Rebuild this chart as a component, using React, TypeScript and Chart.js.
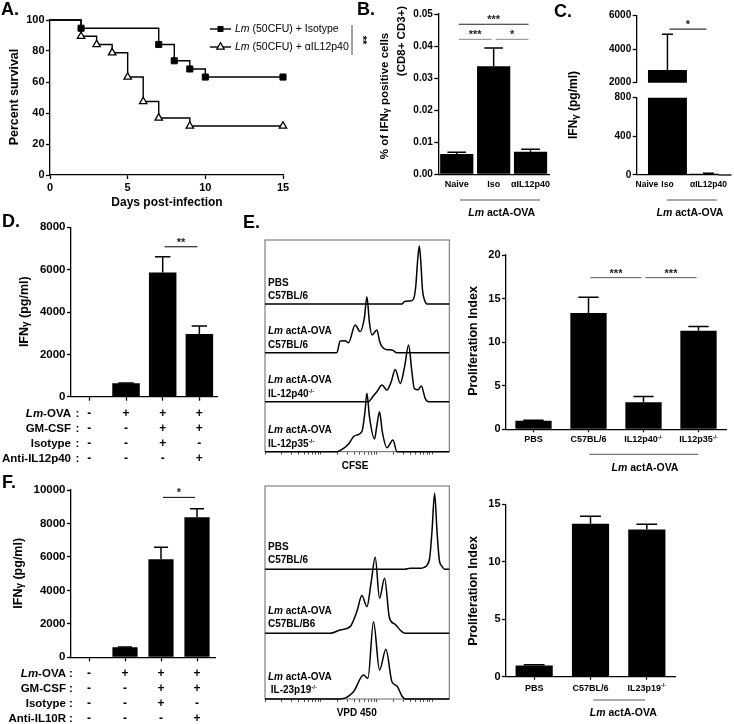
import React, { useEffect, useRef } from 'react';
import { Chart, registerables } from 'chart.js';

Chart.register(...registerables);

const W = 734;
const H = 724;
const FONT = "'Liberation Sans', Arial, Helvetica, sans-serif";

// ---------------- DATA ----------------
// A. Kaplan-Meier survival
const A_DAYS_ISO = [0, 2, 7, 8, 9, 10, 15];
const A_SURV_ISO = [100, 94.7, 84.2, 73.7, 68.4, 63.2, 63.2];
const A_DAYS_AB = [0, 2, 3, 4, 5, 6, 7, 9, 15];
const A_SURV_AB = [100, 89.5, 84.2, 78.9, 63.2, 47.4, 36.8, 31.6, 31.6];
const A_SERIES = ['_Lm_ (50CFU) + Isotype', '_Lm_ (50CFU) + αIL12p40'];

// B. % IFNγ+ cells
const B_CATS = ['Naive', 'Iso', 'αIL12p40'];
const B_MEAN = [0.0063, 0.0337, 0.0070];
const B_SEM = [0.0006, 0.0057, 0.0008];
const B_SIG: [number, number, number, string][] = [[0, 2, 0.0468, '***'], [0, 1, 0.0421, '***'], [1, 2, 0.0421, '*']];

// C. IFNγ pg/ml (broken axis) – empty slot between Iso and αIL12p40
const C_CATS = ['Naive', 'Iso', '', 'αIL12p40'];
const C_MEAN = [0, 2760, null, 12];
const C_SEM = [0, 2130, 0, 5];
const C_SIG: [number, number, number, string][] = [[1, 3, 5200, '*']];

// D. IFNγ with anti-IL12p40
const D_ROWS = ['_Lm_-OVA', 'GM-CSF', 'Isotype', 'Anti-IL12p40'];
const D_TABLE = [['-', '+', '+', '+'], ['-', '-', '+', '+'], ['-', '-', '+', '-'], ['-', '-', '-', '+']];
const D_MEAN = [0, 630, 5870, 2960];
const D_SEM = [0, 20, 740, 380];
const D_SIG: [number, number, number, string][] = [[2, 3, 7080, '**']];

// F. IFNγ with anti-IL10R
const F_ROWS = ['_Lm_-OVA', 'GM-CSF', 'Isotype', 'Anti-IL10R'];
const F_TABLE = [['-', '+', '+', '+'], ['-', '-', '+', '+'], ['-', '-', '+', '-'], ['-', '-', '-', '+']];
const F_MEAN = [0, 600, 5860, 8370];
const F_SEM = [0, 20, 715, 515];
const F_SIG: [number, number, number, string][] = [[2, 3, 9560, '*']];

// E. proliferation index
const E1_CATS = ['PBS', 'C57BL/6', 'IL12p40^-/-^', 'IL12p35^-/-^'];
const E1_MEAN = [0.97, 13.35, 3.1, 11.3];
const E1_SEM = [0.08, 1.8, 0.65, 0.5];
const E1_SIG: [number, number, number, string][] = [[1, 2, 17.4, '***'], [2, 3, 17.4, '***']];
const E2_CATS = ['PBS', 'C57BL/6', 'IL23p19^-/-^'];
const E2_MEAN = [0.97, 13.3, 12.8];
const E2_SEM = [0.06, 0.65, 0.45];

// E. flow histograms: [log10 fluorescence (decades), count]
const HIST_DECADES = 3.3;
const H1_NAMES = [['PBS', 'C57BL/6'], ['_Lm_ actA-OVA', 'C57BL/6'], ['_Lm_ actA-OVA', 'IL-12p40^-/-^'], ['_Lm_ actA-OVA', 'IL-12p35^-/-^']];
const H1_MAX = [64, 48.7, 49, 50];
const H1_PBS = [[0, 0], [2.45, 0], [2.5, 2.5], [2.6, 3], [2.66, 5], [2.7, 18], [2.735, 45], [2.763, 58], [2.79, 42], [2.82, 14], [2.86, 3.5], [2.9, 0], [3.3, 0]];
const H1_WT = [[0, 0], [1.286, 0], [1.346, 11.7], [1.435, 12], [1.495, 10], [1.615, 27.7], [1.704, 21], [1.78, 35], [1.825, 56], [1.87, 30], [1.914, 17.7], [2.004, 22.7], [2.05, 12], [2.094, 6], [2.183, 3], [2.273, 2.7], [2.363, 0], [3.3, 0]];
const H1_P40 = [[0, 0], [1.853, 0], [1.93, 5], [2.004, 10], [2.094, 16.7], [2.183, 11.7], [2.26, 20], [2.332, 32.3], [2.422, 18.3], [2.5, 35], [2.571, 56.7], [2.63, 30], [2.673, 13.3], [2.74, 12], [2.799, 15.7], [2.87, 3], [2.93, 0], [3.3, 0]];
const H1_P35 = [[0, 0], [1.286, 0], [1.405, 3.3], [1.5, 8], [1.584, 15], [1.645, 16.7], [1.735, 20], [1.79, 40], [1.825, 58.4], [1.87, 35], [1.961, 12.7], [2.0, 25], [2.051, 40], [2.1, 20], [2.183, 4], [2.291, 11.7], [2.363, 0], [3.3, 0]];
const H2_NAMES = [['PBS', 'C57BL/6'], ['_Lm_ actA-OVA', 'C57BL/B6'], ['_Lm_ actA-OVA', ' IL-23p19^-/-^']];
const H2_MAX = [83.3, 64, 65.7];
const H2_PBS = [[0, 0], [2.5, 0], [2.6, 1], [2.78, 1], [2.85, 2], [2.9, 4], [2.95, 12], [2.99, 38], [3.037, 76], [3.08, 38], [3.12, 10], [3.17, 3], [3.22, 0], [3.3, 0]];
const H2_WT = [[0, 0], [1.166, 0], [1.346, 3.3], [1.525, 6.7], [1.645, 21.7], [1.735, 37.7], [1.825, 26.7], [1.902, 51.7], [1.973, 76], [2.051, 35], [2.14, 55], [2.23, 15], [2.332, 9], [2.422, 3], [2.512, 0], [3.3, 0]];
const H2_P19 = [[0, 0], [1.346, 0], [1.584, 7.3], [1.764, 24], [1.843, 20.7], [1.943, 77.3], [2.051, 29], [2.165, 49.7], [2.273, 17.3], [2.363, 13], [2.452, 3], [2.512, 0], [3.3, 0]];

// ---------------- HELPERS ----------------
type Seg = { t: string; it: boolean; sup: boolean; sub: boolean };
function parseRich(s: string): Seg[] {
  const segs: Seg[] = [];
  let it = false, sup = false, sub = false, cur = '';
  const push = () => { if (cur) segs.push({ t: cur, it, sup, sub }); cur = ''; };
  for (const ch of s) {
    if (ch === '_') { push(); it = !it; }
    else if (ch === '^') { push(); sup = !sup; }
    else if (ch === '~') { push(); sub = !sub; }
    else cur += ch;
  }
  push();
  return segs;
}

function drawRich(ctx: CanvasRenderingContext2D, s: string, x: number, y: number, o: { size: number; weight?: string; align?: string; rot?: number; color?: string }) {
  const segs = parseRich(s);
  const weight = o.weight ?? 'bold';
  const fontOf = (sg: Seg) => {
    const sz = sg.sup ? o.size * 0.6 : sg.sub ? o.size * 0.8 : o.size;
    return `${sg.it ? 'italic ' : ''}${weight} ${sz}px ${FONT}`;
  };
  ctx.save();
  ctx.translate(x, y);
  if (o.rot) ctx.rotate(o.rot);
  ctx.textBaseline = 'middle';
  ctx.textAlign = 'left';
  ctx.fillStyle = o.color ?? '#000';
  const widths = segs.map((sg) => { ctx.font = fontOf(sg); return ctx.measureText(sg.t).width; });
  const total = widths.reduce((a, b) => a + b, 0);
  let cx = o.align === 'center' ? -total / 2 : o.align === 'right' ? -total : 0;
  segs.forEach((sg, i) => {
    ctx.font = fontOf(sg);
    const dy = sg.sup ? -o.size * 0.3 : sg.sub ? o.size * 0.12 : 0;
    ctx.fillText(sg.t, cx, dy);
    cx += widths[i];
  });
  ctx.restore();
}

function line(ctx: CanvasRenderingContext2D, x1: number, y1: number, x2: number, y2: number, color = '#000', w = 1) {
  ctx.save();
  ctx.strokeStyle = color;
  ctx.lineWidth = w;
  ctx.beginPath();
  ctx.moveTo(x1, y1);
  ctx.lineTo(x2, y2);
  ctx.stroke();
  ctx.restore();
}

const pad = (L: number, T: number, R: number, B: number, yw: number, xh: number) =>
  ({ left: L - yw, top: T, right: W - R, bottom: H - B - xh });

const baseOpts = (padding: any, scales: any) => ({
  animation: false,
  responsive: false,
  devicePixelRatio: 1,
  events: [],
  layout: { padding },
  plugins: { legend: { display: false }, tooltip: { enabled: false } },
  scales,
});

const plain = (v: any) => String(v);

const yAxis = (min: number, max: number, step: number, size: number, w: number, fmt: (v: any) => string = plain) => ({
  type: 'linear', min, max,
  afterFit: (s: any) => { s.width = w; },
  border: { color: '#000', width: 1.3 },
  grid: { drawOnChartArea: false, color: '#000', tickColor: '#000', tickLength: 4, tickWidth: 1.3 },
  ticks: { stepSize: step, color: '#000', font: { family: FONT, size, weight: 'bold' }, padding: 1.5, callback: fmt },
});

const xCat = (h: number, o: { marks?: boolean; labels?: boolean; size?: number; pad?: number; lh?: number; tl?: number }) => ({
  type: 'category',
  afterFit: (s: any) => { s.height = h; },
  border: { color: '#000', width: 1.3 },
  grid: { display: !!o.marks, drawOnChartArea: false, drawTicks: !!o.marks, offset: false, color: '#000', tickColor: '#000', tickLength: o.tl ?? 4, tickWidth: 1.3 },
  ticks: {
    display: o.labels !== false, autoSkip: false, maxRotation: 0, minRotation: 0, color: '#000',
    font: { family: FONT, size: o.size ?? 9, weight: 'bold', lineHeight: o.lh ?? 1.2 }, padding: o.pad ?? 3,
  },
});

const barDs = (data: any[], pct: number) => ({ data, backgroundColor: '#000', borderWidth: 0, barPercentage: pct, categoryPercentage: 1 });

const errPlugin = (errs: number[], capFrac = 0.28) => ({
  id: 'errbars',
  afterDatasetsDraw(chart: any) {
    const ctx = chart.ctx;
    const ys = chart.scales.y;
    const a = chart.chartArea;
    const meta = chart.getDatasetMeta(0);
    const vals = chart.data.datasets[0].data;
    ctx.save();
    ctx.beginPath();
    ctx.rect(a.left - 10, a.top - 2, a.right - a.left + 20, a.bottom - a.top + 4);
    ctx.clip();
    ctx.strokeStyle = '#000';
    ctx.lineWidth = 1.5;
    meta.data.forEach((bar: any, i: number) => {
      const e = errs[i];
      if (!e || vals[i] == null) return;
      const x = bar.x;
      const y0 = ys.getPixelForValue(vals[i]);
      const y1 = ys.getPixelForValue(vals[i] + e);
      const hw = bar.width * capFrac;
      ctx.beginPath();
      ctx.moveTo(x, y0);
      ctx.lineTo(x, y1);
      ctx.moveTo(x - hw, y1);
      ctx.lineTo(x + hw, y1);
      ctx.stroke();
    });
    ctx.restore();
  },
});

const annot = (fn: (chart: any, ctx: CanvasRenderingContext2D) => void) => ({
  id: 'annot',
  afterDraw(chart: any) { fn(chart, chart.ctx); },
});

function drawSig(chart: any, sigs: [number, number, number, string][], colors?: string[]) {
  const xs = chart.scales.x, ys = chart.scales.y, ctx = chart.ctx;
  sigs.forEach(([a, b, v, txt], k) => {
    const x1 = xs.getPixelForValue(a) + 2;
    const x2 = xs.getPixelForValue(b) - 2;
    const y = ys.getPixelForValue(v);
    line(ctx, x1, y, x2, y, colors ? colors[k] : '#000', 1);
    drawRich(ctx, txt, (x1 + x2) / 2, y - 4, { size: 11, align: 'center', color: '#222' });
  });
}

function drawTable(chart: any, rows: string[], rightX: number, colonX: number, y0: number, lh: number) {
  const ctx = chart.ctx;
  rows.forEach((r, i) => {
    const y = y0 + i * lh;
    drawRich(ctx, r, rightX, y, { size: 11.5, align: 'right' });
    drawRich(ctx, ':', colonX, y, { size: 11.5, align: 'center' });
  });
}

// ---------------- PANELS ----------------
function cfgA() {
  const pts = (xs: number[], ys: number[]) => xs.map((x, i) => ({ x, y: ys[i] }));
  return {
    type: 'line',
    data: {
      datasets: [
        {
          data: pts(A_DAYS_ISO, A_SURV_ISO), stepped: 'before', borderColor: '#000', borderWidth: 1.4,
          pointStyle: 'rect', pointRadius: (c: any) => (c.dataIndex === 0 ? 0 : 4.3),
          pointBackgroundColor: '#000', pointBorderColor: '#000', pointBorderWidth: 1, clip: false,
        },
        {
          data: pts(A_DAYS_AB, A_SURV_AB), stepped: 'before', borderColor: '#000', borderWidth: 1.4,
          pointStyle: 'triangle', pointRadius: (c: any) => (c.dataIndex === 0 ? 0 : 4.3),
          pointBackgroundColor: '#fff', pointBorderColor: '#000', pointBorderWidth: 1.3, clip: false,
        },
      ],
    },
    options: baseOpts(pad(50, 20, 283, 175, 50, 30), {
      x: {
        type: 'linear', min: 0, max: 15,
        afterFit: (s: any) => { s.height = 30; },
        border: { color: '#000', width: 1.3 },
        grid: { drawOnChartArea: false, color: '#000', tickColor: '#000', tickLength: 4, tickWidth: 1.3 },
        ticks: { stepSize: 5, color: '#000', font: { family: FONT, size: 11, weight: 'bold' }, padding: 2.4, callback: plain },
      },
      y: yAxis(0, 100, 20, 11, 50),
    }),
    plugins: [annot((chart, ctx) => {
      // legend
      const rows = [{ y: 29, tri: false, label: A_SERIES[0] }, { y: 47, tri: true, label: A_SERIES[1] }];
      rows.forEach((r) => {
        line(ctx, 210, r.y, 231, r.y, '#000', 1.4);
        ctx.save();
        ctx.lineWidth = 1.3;
        ctx.strokeStyle = '#000';
        if (r.tri) {
          ctx.fillStyle = '#fff';
          ctx.beginPath();
          ctx.moveTo(220.5, r.y - 4.3);
          ctx.lineTo(220.5 + 3.7, r.y + 2.15);
          ctx.lineTo(220.5 - 3.7, r.y + 2.15);
          ctx.closePath();
          ctx.fill();
          ctx.stroke();
        } else {
          ctx.fillStyle = '#000';
          ctx.fillRect(217.5, r.y - 3, 6, 6);
        }
        ctx.restore();
        drawRich(ctx, r.label, 235, r.y, { size: 10.5, weight: 'normal' });
      });
      line(ctx, 352, 25, 352, 55, '#444', 1);
      drawRich(ctx, '**', 362, 40, { size: 11, rot: Math.PI / 2, align: 'center' });
      // axis titles
      drawRich(ctx, 'Percent survival', 15, 97, { size: 12.5, rot: -Math.PI / 2, align: 'center' });
      drawRich(ctx, 'Days post-infection', 167, 203, { size: 12, align: 'center' });
      // panel letters
      ctx.save();
      ctx.font = `bold 18px ${FONT}`;
      ctx.fillStyle = '#000';
      ctx.textBaseline = 'alphabetic';
      ([['A.', 1, 15], ['B.', 357, 15], ['C.', 554, 17], ['D.', 2, 227], ['E.', 243, 228], ['F.', 2, 488]] as [string, number, number][]).forEach(([t, x, y]) => ctx.fillText(t, x, y));
      ctx.restore();
    })],
  };
}

function cfgB() {
  return {
    type: 'bar',
    data: { labels: B_CATS, datasets: [barDs(B_MEAN, 0.9)] },
    options: baseOpts(pad(438.3, 14, 549, 174.3, 45, 25), {
      x: xCat(25, { size: 9, pad: 5.3 }),
      y: yAxis(0, 0.05, 0.01, 10, 45, (v: any) => Number(v).toFixed(2)),
    }),
    plugins: [errPlugin(B_SEM), annot((chart, ctx) => {
      drawRich(ctx, '% of IFN~γ~ positive cells', 385, 96, { size: 11.5, rot: -Math.PI / 2, align: 'center' });
      drawRich(ctx, '(CD8+ CD3+)', 401.5, 41, { size: 11.5, rot: -Math.PI / 2, align: 'center' });
      drawSig(chart, B_SIG, ['#222', '#888', '#888']);
      line(ctx, 460, 200, 540, 200, '#555', 1);
      drawRich(ctx, '_Lm_ actA-OVA', 501.7, 213, { size: 10.5, align: 'center' });
    })],
  };
}

const C_L = 636.7;
const C_R = 718.7;

function cfgCTop() {
  return {
    type: 'bar',
    data: { labels: C_CATS, datasets: [barDs(C_MEAN, 1.9)] },
    options: baseOpts(pad(C_L, 15.7, C_R, 82.7, 45, 0), {
      x: { type: 'category', display: false },
      y: yAxis(2000, 6000, 2000, 10, 45),
    }),
    plugins: [errPlugin(C_SEM, 0.14), annot((chart) => {
      drawSig(chart, C_SIG);
    })],
  };
}

function cfgCBottom() {
  return {
    type: 'bar',
    data: { labels: C_CATS, datasets: [barDs(C_MEAN, 1.9)] },
    options: baseOpts(pad(C_L, 97.7, C_R, 175, 45, 25), {
      x: xCat(25, { size: 8.5, pad: 4.8 }),
      y: yAxis(0, 800, 400, 10, 45),
    }),
    plugins: [errPlugin(C_SEM, 0.14), annot((chart, ctx) => {
      const a = chart.chartArea;
      line(ctx, a.right, a.bottom, 731.5, a.bottom, '#000', 1.3);
      drawRich(ctx, 'IFN~γ~ (pg/ml)', 573.5, 105, { size: 12, rot: -Math.PI / 2, align: 'center' });
      line(ctx, 666.7, 200, 716.7, 200, '#555', 1);
      drawRich(ctx, '_Lm_ actA-OVA', 690, 213, { size: 10.5, align: 'center' });
    })],
  };
}

const columns = (table: string[][]) => table[0].map((_, c) => table.map((r) => r[c]));

function cfgD() {
  return {
    type: 'bar',
    data: { labels: columns(D_TABLE), datasets: [barDs(D_MEAN, 0.75)] },
    options: baseOpts(pad(71, 227.3, 217.7, 396.7, 55, 70), {
      x: xCat(70, { marks: true, size: 12, pad: 5.8, lh: 1.25 }),
      y: yAxis(0, 8000, 2000, 11.5, 55),
    }),
    plugins: [errPlugin(D_SEM), annot((chart, ctx) => {
      drawRich(ctx, 'IFN~γ~ (pg/ml)', 25, 311.7, { size: 12.5, rot: -Math.PI / 2, align: 'center' });
      drawSig(chart, D_SIG);
      drawTable(chart, D_ROWS, 71, 77.5, chart.chartArea.bottom + 4 + 5.8 + 7.5, 15);
    })],
  };
}

function cfgF() {
  return {
    type: 'bar',
    data: { labels: columns(F_TABLE), datasets: [barDs(F_MEAN, 0.7)] },
    options: baseOpts(pad(71, 490, 215, 657.3, 55, 66), {
      x: xCat(66, { marks: true, size: 12, pad: 4.5, lh: 1.27 }),
      y: yAxis(0, 10000, 2000, 11.5, 55),
    }),
    plugins: [errPlugin(F_SEM), annot((chart, ctx) => {
      drawRich(ctx, 'IFN~γ~ (pg/ml)', 19, 573.3, { size: 12.5, rot: -Math.PI / 2, align: 'center' });
      drawSig(chart, F_SIG);
      drawTable(chart, F_ROWS, 66, 71, chart.chartArea.bottom + 4 + 4.5 + 7.6, 15.2);
    })],
  };
}

function cfgEBar(cats: string[], mean: number[], sem: number[], sig: [number, number, number, string][] | null, area: number[], max: number, labelY: number, under: number[], groupXY: number[], titleY: number) {
  const [L, T, R, B] = area;
  return {
    type: 'bar',
    data: { labels: cats, datasets: [barDs(mean, 0.66)] },
    options: baseOpts(pad(L, T, R, B, 40, 20), {
      x: xCat(20, { marks: true, labels: false, tl: 3 }),
      y: yAxis(0, max, 5, 11, 40),
    }),
    plugins: [errPlugin(sem), annot((chart, ctx) => {
      const xs = chart.scales.x;
      cats.forEach((c, i) => drawRich(ctx, c, xs.getPixelForValue(i), labelY, { size: 9, align: 'center' }));
      if (sig) drawSig(chart, sig, sig.map(() => '#555'));
      line(ctx, under[0], under[2], under[1], under[2], '#555', 1);
      drawRich(ctx, '_Lm_ actA-OVA', groupXY[0], groupXY[1], { size: 10.5, align: 'center' });
      drawRich(ctx, 'Proliferation Index', 473.3, titleY, { size: 12.5, rot: -Math.PI / 2, align: 'center' });
    })],
  };
}

const cfgE1 = () => cfgEBar(E1_CATS, E1_MEAN, E1_SEM, E1_SIG, [506, 255, 726, 429.3], 20, 440, [589.3, 698.3, 454.3], [645, 468.3], 341);
const cfgE2 = () => cfgEBar(E2_CATS, E2_MEAN, E2_SEM, null, [506, 504.2, 675, 676.7], 15, 688.3, [593.3, 645, 700], [623.3, 713.3], 591);

const LOG_TICKS: number[] = [];
for (let d = 0; d < 4; d++) for (let k = 1; k <= 9; k++) { const v = d + Math.log10(k); if (v <= HIST_DECADES + 1e-9) LOG_TICKS.push(v); }

function cfgHist(tracks: number[][][], maxes: number[], names: string[][], area: number[], xTitle: string, xTitleXY: number[], off: number[]) {
  const [L, T, R, B] = area;
  const n = tracks.length;
  const scales: any = {
    x: {
      type: 'linear', min: 0, max: HIST_DECADES,
      afterFit: (s: any) => { s.height = 6; },
      afterBuildTicks: (s: any) => { s.ticks = LOG_TICKS.map((v) => ({ value: v })); },
      border: { display: false },
      grid: { drawOnChartArea: false, color: '#555', tickColor: '#555', tickLength: 3, tickWidth: 1 },
      ticks: { display: false },
    },
    y: { display: false },
  };
  tracks.forEach((_, i) => {
    scales['t' + i] = {
      type: 'linear', position: 'left', stack: 'hist', stackWeight: maxes[i], weight: n - i,
      min: 0, max: maxes[i], afterFit: (s: any) => { s.width = 0; },
      ticks: { display: false }, grid: { display: false }, border: { display: false },
    };
  });
  return {
    type: 'line',
    data: {
      datasets: tracks.map((t, i) => ({
        data: t, yAxisID: 't' + i, xAxisID: 'x', borderColor: '#000', borderWidth: 1.5, pointRadius: 0,
        cubicInterpolationMode: 'monotone', clip: false, fill: false,
      })),
    },
    options: baseOpts(pad(L, T, R, B, 0, 6), scales),
    plugins: [
      {
        id: 'box',
        beforeDatasetsDraw(chart: any) {
          const a = chart.chartArea, ctx = chart.ctx;
          ctx.save();
          ctx.strokeStyle = '#666';
          ctx.lineWidth = 1;
          ctx.strokeRect(a.left, a.top, a.right - a.left, a.bottom - a.top);
          ctx.restore();
        },
      },
      annot((chart, ctx) => {
        names.forEach((lines, i) => {
          const b = chart.scales['t' + i].getPixelForValue(0);
          drawRich(ctx, lines[0], chart.chartArea.left + 3, b + off[0], { size: 10 });
          drawRich(ctx, lines[1], chart.chartArea.left + 3, b + off[1], { size: 10 });
        });
        drawRich(ctx, xTitle, xTitleXY[0], xTitleXY[1], { size: 10, align: 'center' });
      }),
    ],
  };
}

const cfgH1 = () => cfgHist([H1_PBS, H1_WT, H1_P40, H1_P35], H1_MAX, H1_NAMES, [265, 240, 449.3, 451.7], 'CFSE', [355, 466.7], [-21, -7.5]);
const cfgH2 = () => cfgHist([H2_PBS, H2_WT, H2_P19], H2_MAX, H2_NAMES, [265, 486, 449.3, 699], 'VPD 450', [356.7, 713.3], [-22, -9]);

// ---------------- REACT ----------------
function ChartCanvas({ make }: { make: () => any }) {
  const ref = useRef<HTMLCanvasElement>(null);
  useEffect(() => {
    const chart = new Chart(ref.current as HTMLCanvasElement, make());
    return () => chart.destroy();
  }, []);
  return <canvas ref={ref} width={W} height={H} style={{ position: 'absolute', left: 0, top: 0, width: W, height: H }} />;
}

const CONFIGS = [cfgA, cfgB, cfgCTop, cfgCBottom, cfgD, cfgF, cfgE1, cfgE2, cfgH1, cfgH2];

export default function App() {
  return (
    <div style={{ position: 'absolute', left: 0, top: 0, width: W, height: H, background: '#fff', overflow: 'hidden' }}>
      {CONFIGS.map((c, i) => <ChartCanvas key={i} make={c} />)}
    </div>
  );
}
